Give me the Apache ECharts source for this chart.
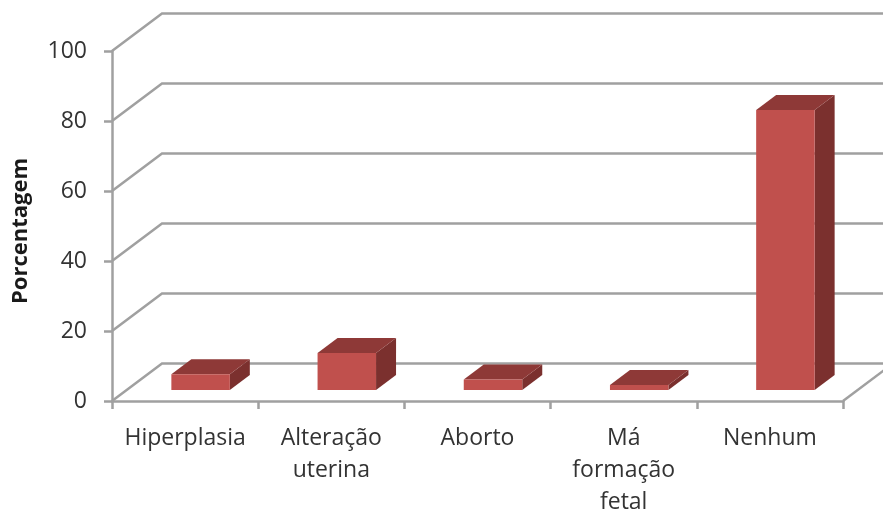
<!DOCTYPE html>
<html>
<head>
<meta charset="utf-8">
<style>html,body{margin:0;padding:0;background:#fff}#chart{width:883px;height:511px}</style>
<script src="https://cdn.jsdelivr.net/npm/echarts@6/dist/echarts.min.js"></script>
</head>
<body>
<div id="chart"></div>
<script>
// Share of each outcome, in percent
const categories = ['Hiperplasia', 'Alteração\nuterina', 'Aborto', 'Má\nformação\nfetal', 'Nenhum'];
const percentages = [4.5, 10.6, 3, 1.4, 80];
const gridValues = [0, 20, 40, 60, 80, 100];

// Oblique projection used for the pseudo 3D look
const WALL_DX = 50, WALL_DY = -37.5;
const BAR_DX = 15.5, BAR_DY = -11;
const DEPTH_DX = 20, DEPTH_DY = -15;
const BAR_RATIO = 0.4;

const LINE = '#a0a0a0';
const LINE_W = 2.5;
const TEXT = '#333333';
const FONT = '"Open Sans", sans-serif';

function renderWall(params, api) {
  const cs = params.coordSys;
  const y = api.coord([0, api.value(0)])[1];
  const left = cs.x, right = cs.x + cs.width;
  const children = [{
    type: 'polyline',
    shape: { points: [[left, y], [left + WALL_DX, y + WALL_DY], [right + WALL_DX, y + WALL_DY]] },
    style: { fill: null, stroke: LINE, lineWidth: LINE_W }
  }];
  // the floor also closes on the right-hand side
  if (api.value(0) === 0) {
    children.push({
      type: 'line',
      shape: { x1: right, y1: y, x2: right + WALL_DX, y2: y + WALL_DY },
      style: { stroke: LINE, lineWidth: LINE_W }
    });
  }
  return { type: 'group', children };
}

function renderBar(params, api) {
  const top = api.coord([api.value(0), api.value(1)]);
  const base = api.coord([api.value(0), 0]);
  const w = api.size([1, 0])[0] * BAR_RATIO;
  const x0 = top[0] - w / 2 + BAR_DX, x1 = x0 + w;
  const yT = top[1] + BAR_DY, yB = base[1] + BAR_DY;
  const poly = (points, fill) => ({ type: 'polygon', shape: { points }, style: { fill } });
  return {
    type: 'group',
    children: [
      poly([[x1, yT], [x1 + DEPTH_DX, yT + DEPTH_DY], [x1 + DEPTH_DX, yB + DEPTH_DY], [x1, yB]], '#7b302e'),
      poly([[x0, yT], [x0 + DEPTH_DX, yT + DEPTH_DY], [x1 + DEPTH_DX, yT + DEPTH_DY], [x1, yT]], '#8e3937'),
      poly([[x0, yT], [x1, yT], [x1, yB], [x0, yB]], '#c0504d')
    ]
  };
}

const chart = echarts.init(document.getElementById('chart'), null, { renderer: 'canvas' });
chart.setOption({
  animation: false,
  backgroundColor: '#fff',
  grid: { left: 112, right: 40, top: 51, bottom: 110, outerBoundsMode: 'none' },
  xAxis: {
    type: 'category',
    data: categories,
    axisLine: { lineStyle: { color: LINE, width: LINE_W } },
    axisTick: { show: true, alignWithLabel: false, length: 8, lineStyle: { color: LINE, width: LINE_W } },
    axisLabel: { color: TEXT, fontFamily: FONT, fontSize: 23, lineHeight: 32, margin: 21, interval: 0 }
  },
  yAxis: {
    type: 'value',
    min: 0,
    max: 100,
    interval: 20,
    name: 'Porcentagem',
    nameLocation: 'middle',
    nameRotate: 90,
    nameGap: 80,
    nameTextStyle: { color: '#1a1a1a', fontFamily: FONT, fontSize: 22, fontWeight: 'bold', padding: [0, 10, 0, 0] },
    splitLine: { show: false },
    axisLine: { show: true, lineStyle: { color: LINE, width: LINE_W } },
    axisTick: { show: true, length: 8, lineStyle: { color: LINE, width: LINE_W } },
    axisLabel: { color: TEXT, fontFamily: FONT, fontSize: 23, margin: 25, padding: [2, 0, 0, 0] }
  },
  series: [
    {
      type: 'custom',
      name: 'Grade',
      coordinateSystem: 'cartesian2d',
      clip: false,
      silent: true,
      z: 1,
      encode: { y: 0 },
      data: gridValues.map(v => [v]),
      renderItem: renderWall
    },
    {
      type: 'custom',
      name: 'Porcentagem',
      coordinateSystem: 'cartesian2d',
      clip: false,
      z: 2,
      encode: { x: 0, y: 1 },
      data: percentages.map((v, i) => [i, v]),
      renderItem: renderBar
    }
  ]
});
</script>
</body>
</html>
